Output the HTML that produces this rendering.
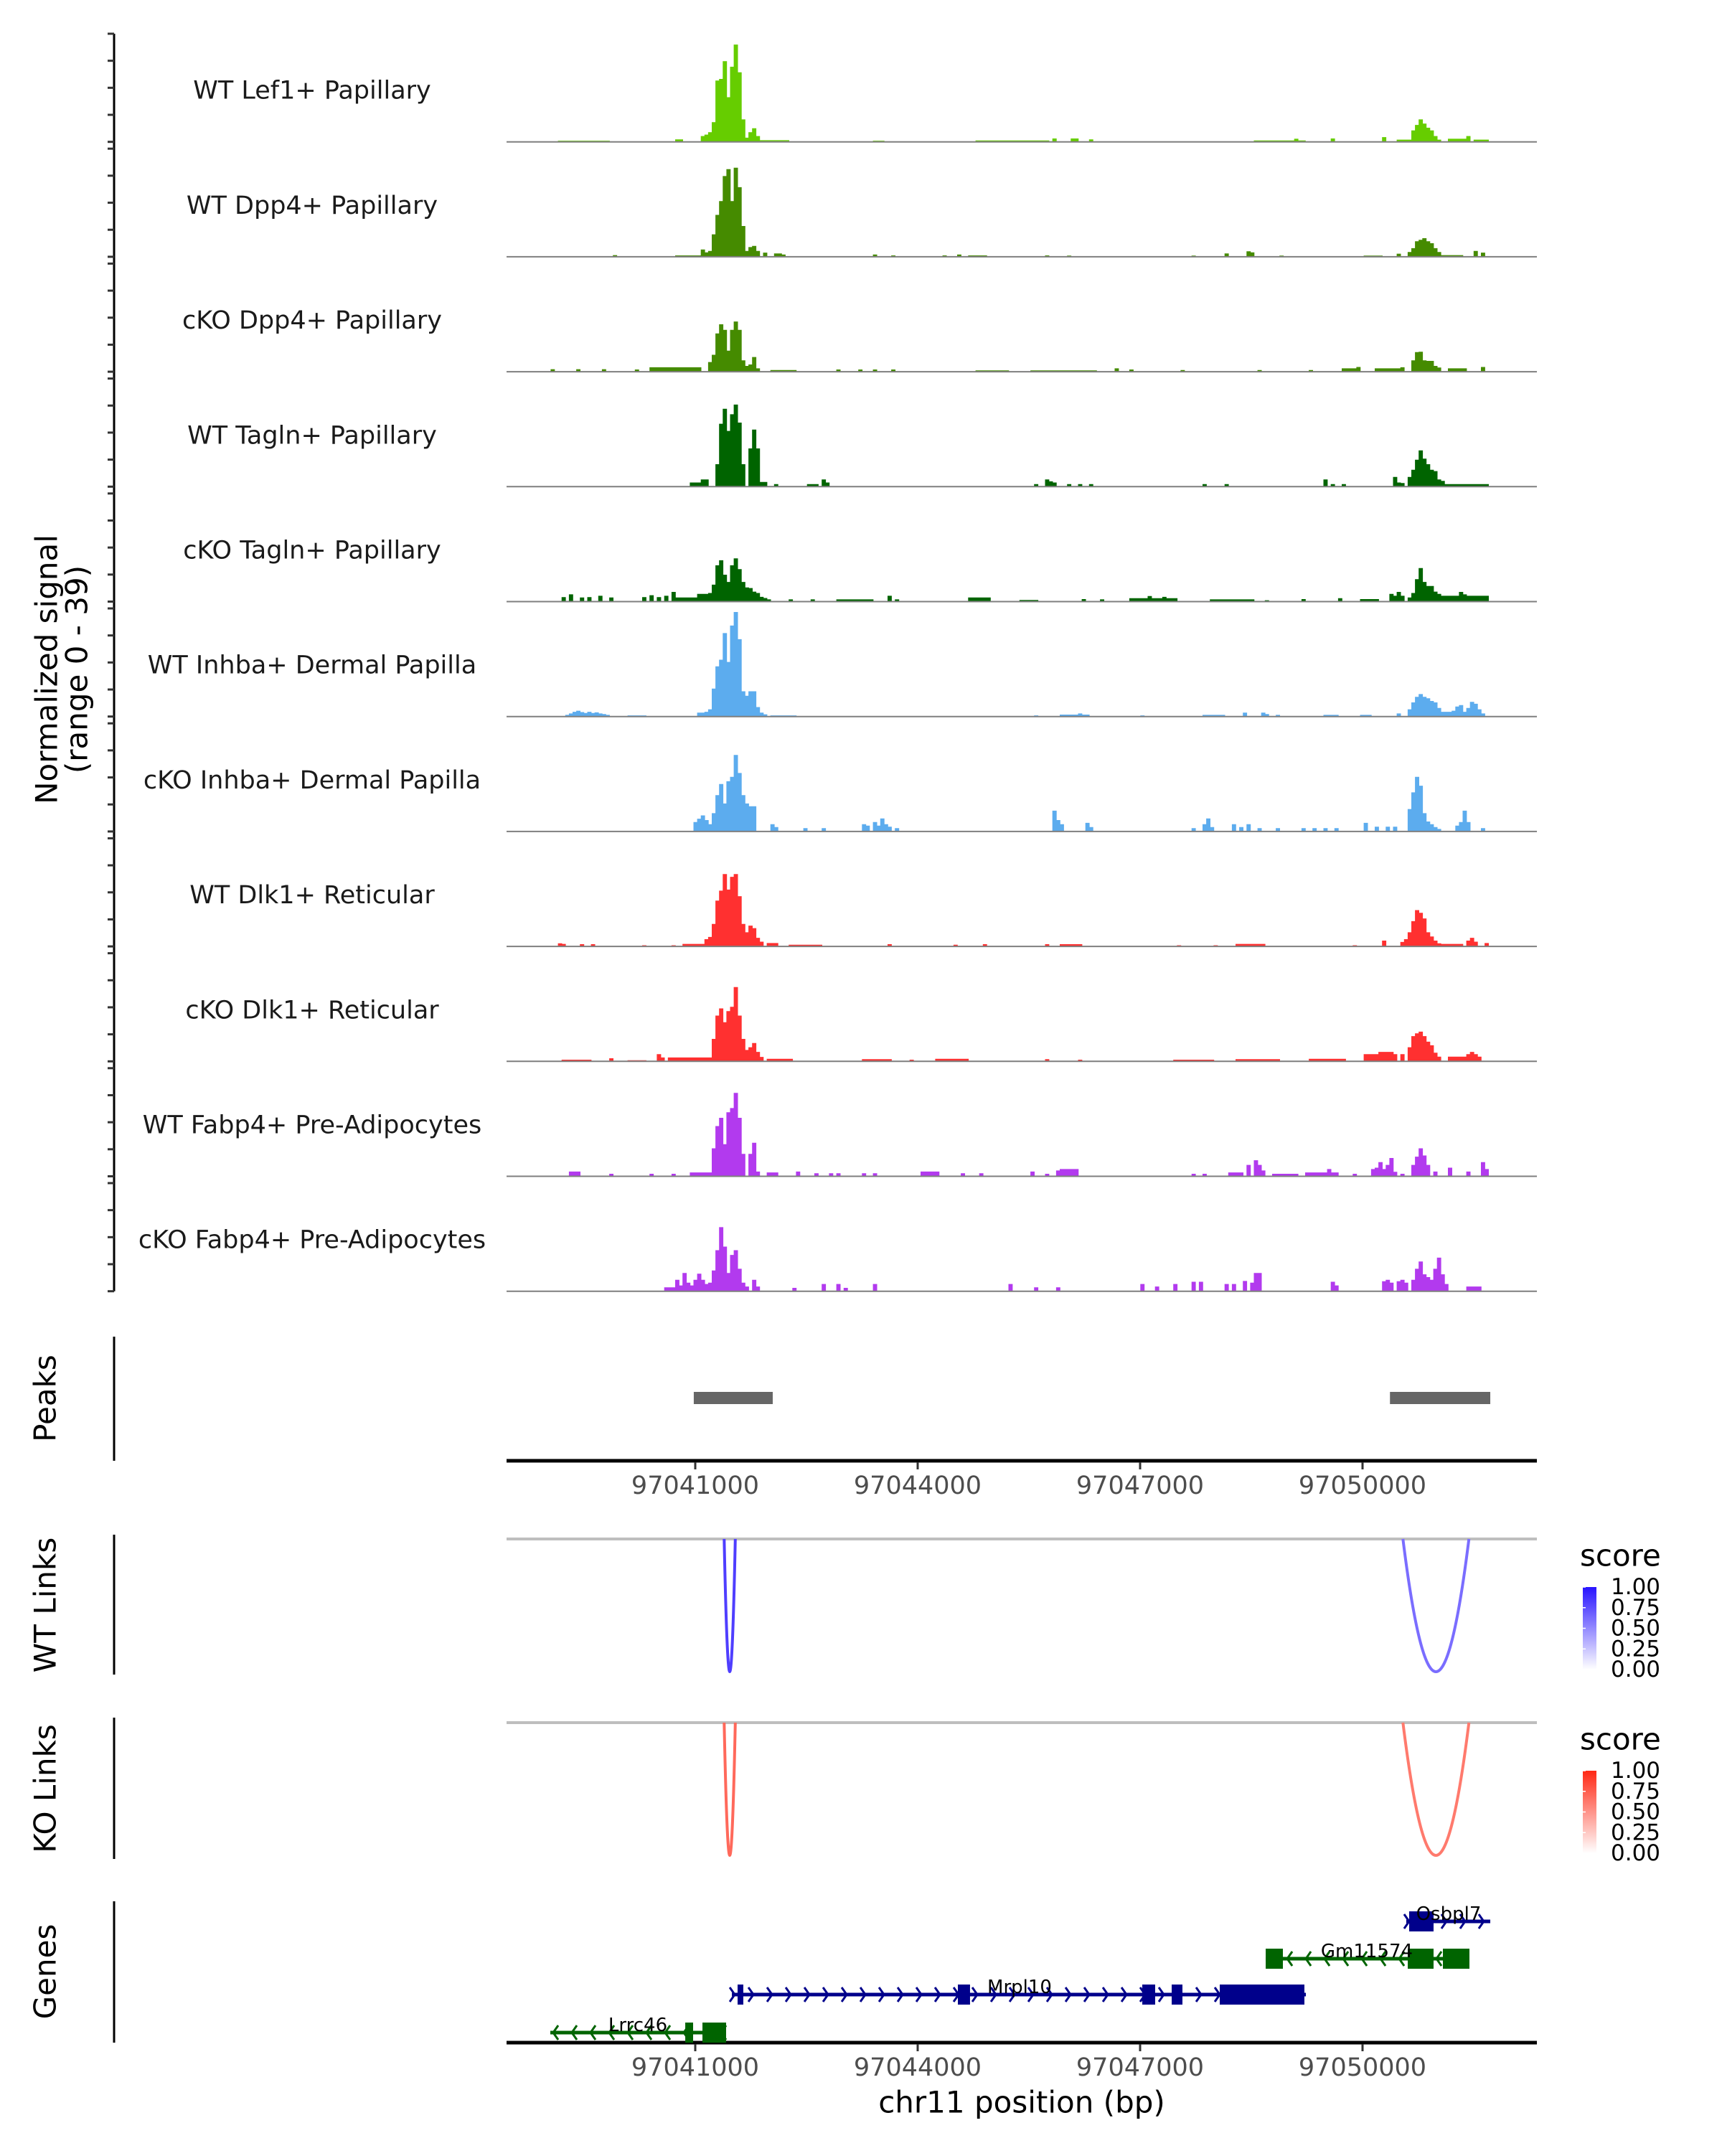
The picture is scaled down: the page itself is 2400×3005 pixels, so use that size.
<!DOCTYPE html>
<html><head><meta charset="utf-8"><style>
html,body{margin:0;padding:0;background:#fff;}
svg text{font-family:"DejaVu Sans","Liberation Sans",sans-serif;}
</style></head><body>
<svg id="chart" xmlns="http://www.w3.org/2000/svg" width="2400" height="3000" viewBox="0 0 2400 3000">
<rect x="0" y="0" width="2400" height="3000" fill="#fff"/>
<g id="tracks"></g>
<g id="axes"></g>
<g id="peaks"></g>
<g id="links"></g>
<g id="genes"></g>
</svg>
<script>
const NS="http://www.w3.org/2000/svg";
const binStartBp=97039053, binSizeBp=49.4;
const trackNames=["WT Lef1+ Papillary","WT Dpp4+ Papillary","cKO Dpp4+ Papillary","WT Tagln+ Papillary","cKO Tagln+ Papillary","WT Inhba+ Dermal Papilla","cKO Inhba+ Dermal Papilla","WT Dlk1+ Reticular","cKO Dlk1+ Reticular","WT Fabp4+ Pre-Adipocytes","cKO Fabp4+ Pre-Adipocytes"];
const trackColors=["#66cd00","#458b00","#458b00","#006400","#006400","#5cacee","#5cacee","#ff3030","#ff3030","#b23aee","#b23aee"];
const sigWtLef1=[[2,0.3,14],[34,0.8,2],[41,2],[42,2.5],[43,3.4],[44,7],[45,22],[46,22.6],[47,29],[48,16],[49,27],[50,35],[51,25],[52,8],[53,1.4],[54,3.4],[55,4.8],[56,2],[57,0.5,8],[88,0.3,3],[116,0.4,20],[137,1.1],[142,1.1,2],[147,0.8],[192,0.4,14],[203,1],[213,1.1],[227,1.6],[231,0.7,4],[235,4],[236,6],[237,8],[238,6.5],[239,5],[240,4],[241,2],[242,0.7],[245,1,5],[250,2],[252,0.7,4]];
const sigWtDpp4=[[17,0.5],[34,0.4,7],[41,2.5],[42,1.5],[43,2],[44,8],[45,15],[46,20],[47,29],[48,31.5],[49,20],[50,32],[51,25],[52,11],[53,2],[54,3.4],[55,3.8],[56,2],[58,1.4],[61,1.1,2],[63,0.7],[88,0.7],[93,0.4],[107,0.4],[111,0.7],[114,0.4,5],[135,0.4],[141,0.3],[175,0.3],[184,1.1],[190,1.9],[191,1.5],[199,0.3],[222,0.3,5],[231,1],[234,1.6],[235,3],[236,5.5],[237,6],[238,6.6],[239,5.5],[240,4.8],[241,3],[242,1.6],[243,0.5,6],[252,2],[254,1.4]];
const sigKoDpp4=[[0,0.8],[7,0.8],[14,0.8],[23,0.7],[27,1.5,14],[43,3.4],[44,6],[45,13.7],[46,17],[47,15],[48,7.5],[49,15],[50,18],[51,15],[52,4],[53,2],[54,2.5],[55,5.2],[56,1.1],[60,0.5,7],[78,0.7],[84,0.7],[88,0.7],[93,0.7],[116,0.4,9],[131,0.4,18],[154,1.1],[158,0.7],[172,0.5],[193,0.5],[207,0.5],[216,1.1,4],[220,1.6],[225,1.1,7],[232,1.5],[235,4],[236,7],[237,7.1],[238,4],[239,3.8],[240,3.8],[241,2],[242,1.4],[245,1.1,5],[254,1.6]];
const sigWtTagln=[[38,1.4,3],[41,2.5,2],[45,8],[46,22.6],[47,28],[48,20],[49,26],[50,29.5],[51,23],[52,8],[54,13.7],[55,20.5],[56,13.7],[57,1.6,2],[61,0.8],[70,0.8,3],[74,2.5],[75,1.4],[132,0.8],[135,2.5],[136,1.8],[137,1.4],[141,0.8],[144,0.8],[147,0.8],[178,0.8],[184,0.8],[211,2.5],[213,0.8],[216,0.8],[230,3.4],[231,1.4],[232,1.2],[234,3.4],[235,6],[236,9.6],[237,13],[238,10],[239,8],[240,6],[241,5.5],[242,2.5],[243,2],[244,0.8,12]];
const sigKoTagln=[[3,1.5],[5,2.5],[8,1.4],[10,1.5],[13,2],[16,1.4],[25,1.5],[27,2.2],[29,1.5],[31,2],[33,3.4],[34,1.4,6],[40,2.7],[41,2.7],[42,2.7],[43,3],[44,6],[45,13],[46,14.8],[47,9.6],[48,7],[49,13],[50,15.5],[51,11.6],[52,7],[53,5],[54,4.8],[55,3.5],[56,3],[57,1.6],[58,1.2],[59,0.7],[65,0.7],[71,0.7],[78,0.7,10],[92,2],[94,0.7],[114,1.4,6],[128,0.5,5],[145,0.8],[150,0.7],[158,1.1,13],[163,1.9],[167,1.6],[180,0.7,12],[195,0.4],[205,0.8],[215,1.1],[221,0.8,5],[229,2.7],[230,2],[231,3.4],[232,2],[234,1.4],[235,3],[236,8],[237,12],[238,7],[239,5.5],[240,5.5],[241,3.5],[242,2.7],[243,2,5],[248,3.4],[249,2.5],[250,2,6]];
const sigWtInhba=[[4,0.5],[5,1],[6,1.6],[7,2],[8,1.5],[9,1.2],[10,1.6],[11,1.2],[12,1.4],[13,1],[14,0.8],[15,0.5],[21,0.3,5],[40,1.3,2],[42,1.6],[43,2.5],[44,10],[45,18],[46,20.4],[47,30],[48,19.6],[49,32.7],[50,37.6],[51,27.8],[52,9],[53,7.4],[54,9],[55,9],[56,3.3],[57,1.3],[58,0.7],[60,0.3,7],[132,0.3],[139,0.6,8],[144,1],[161,0.3],[178,0.5,6],[189,1.3],[194,1.3],[195,0.8],[198,0.5],[211,0.5,4],[221,0.5,3],[231,1],[234,2.5],[235,5],[236,7],[237,8],[238,7],[239,6.5],[240,5.5],[241,5],[242,3],[243,1.6],[244,1.6,2],[246,2],[247,3.5],[248,4],[249,1.6],[250,3],[251,5.2],[252,4.5],[253,2.5],[254,1]];
const sigKoInhba=[[39,3.3],[40,4.5],[41,5.7],[42,4],[43,2.5],[44,6.5],[45,13],[46,17],[47,10],[48,18],[49,19.6],[50,27.5],[51,21],[52,13],[53,10],[54,9],[55,9],[60,2.5],[61,1.5],[69,1.1],[74,1.1],[85,2.5],[86,2],[88,3.3],[89,2],[90,4.6],[91,2.5],[92,1.6],[94,1.1],[137,7.4],[138,4],[139,2.5],[146,3],[147,1.5],[175,1.1],[178,2.5],[179,4.6],[180,1.5],[186,2.5],[188,1.5],[190,2.5],[193,1.1],[198,1.1],[205,1.1],[208,1.1],[211,1.1],[214,1.1],[222,3],[225,1.6],[228,1.6],[230,1.6],[234,8],[235,14],[236,19.6],[237,16.4],[238,6.5],[239,3.5],[240,2.5],[241,1.5],[242,0.8],[247,2],[248,3.3],[249,7.4],[250,3.3],[254,1.1]];
const sigWtDlk1=[[2,1],[3,0.8],[8,0.7],[11,0.7],[25,0.3],[33,0.3],[36,0.8,6],[42,2.5],[43,3.3],[44,8],[45,16.4],[46,20],[47,26],[48,20.4],[49,25],[50,26],[51,18],[52,8],[53,5],[54,7.4],[55,6.5],[56,3],[57,1.6],[59,1.1,3],[65,0.5,9],[92,0.7],[110,0.5],[118,0.7],[135,0.7],[139,0.7,6],[171,0.3],[181,0.3],[187,0.8,8],[219,0.3],[227,2],[232,1.5],[233,2.5],[234,5],[235,9],[236,13],[237,12],[238,10],[239,5],[240,3.5],[241,2],[242,1],[243,0.8,6],[250,2],[251,3],[252,1.6],[255,1.1]];
const sigKoDlk1=[[3,0.5,8],[16,1],[21,0.3,5],[29,2.5],[30,1.3],[32,1.3,12],[44,8],[45,16.4],[46,19],[47,14],[48,18],[49,19.6],[50,26.7],[51,16.4],[52,8],[53,4],[54,5],[55,6.5],[56,3.3],[57,1.5],[59,0.8,7],[85,0.7,8],[98,0.5],[105,0.8,9],[135,0.7],[144,0.5],[170,0.5,11],[187,0.7,12],[207,0.8,10],[222,2.5,4],[226,3.3,4],[230,2.5],[232,2.5],[234,5],[235,9],[236,10],[237,10.6],[238,9],[239,7],[240,5.7],[241,3],[242,1.6],[245,1.6,5],[250,2.5],[251,3.3],[252,2.5],[253,1.6]];
const sigWtFabp4=[[5,1.6,3],[16,0.8],[27,0.8],[33,0.8],[38,1.3,6],[44,10],[45,18],[46,21],[47,11.5],[48,23],[49,24.5],[50,30],[51,21],[52,8],[54,8],[55,12],[56,1.6],[59,1.3,3],[67,1.6],[72,1],[76,1],[78,1],[85,1],[88,1],[101,1.6,5],[112,1],[117,1],[131,1.6],[135,0.8],[138,2],[139,2.5,5],[175,0.8],[178,0.8],[185,1.3,4],[190,4],[192,5.7],[193,4],[194,2],[197,0.8,7],[206,1.3,9],[212,2.5],[219,0.8],[224,2.5],[225,3],[226,5],[227,2.5],[228,4],[229,6.5],[230,1.5],[232,0.8],[235,4],[236,7],[237,10],[238,7.4],[239,4],[241,1.6],[245,3],[250,1.6],[254,5],[255,2.5]];
const sigKoFabp4=[[31,1.3,3],[34,4],[35,2],[36,6.5],[37,3],[38,2],[39,4],[40,6.2],[41,4],[42,2.5],[43,3],[44,7.4],[45,14.7],[46,23],[47,16],[48,6.5],[49,13],[50,14.7],[51,8],[52,3],[53,1.6],[55,4],[56,1.6],[66,1.1],[74,2.5],[78,2.5],[80,1.1],[88,2.5],[125,2.5],[132,1.3],[138,1.3],[161,2.5],[165,1.6],[170,2.5],[175,3.3],[177,3.3],[184,2.5],[186,2.5],[189,3.6],[191,3],[192,6.5],[193,6.5],[213,3.3],[214,2],[227,3.5],[228,4],[229,3],[231,3.5],[232,4],[233,3],[235,4],[236,8],[237,10.6],[238,6],[239,5],[240,4],[241,8],[242,12],[243,6],[244,2.5],[250,1.6,4]];
const xTicks=[97041000,97044000,97047000,97050000];
const xTickLabels=["97041000","97044000","97047000","97050000"];
const peakStarts=[97040980,97050370];
const peakEnds=[97042045,97051723];
const wtLinkStarts=[97041390,97050545];
const wtLinkEnds=[97041540,97051435];
const wtLinkScores=[0.82,0.62];
const koLinkStarts=[97041390,97050545];
const koLinkEnds=[97041540,97051435];
const koLinkScores=[0.7,0.62];
const legendTicks=[1.00,0.75,0.50,0.25,0.00];
const legendTickLabels=["1.00","0.75","0.50","0.25","0.00"];
const geneNames=["Osbpl7","Gm11574","Mrpl10","Lrrc46"];
const geneStrand=[1,-1,1,-1];
const geneStart=[97050590,97048694,97041494,97039045];
const geneEnd=[97051723,97051423,97049236,97041416];
const geneExons=[[[97050629,97050958]],[[97048694,97048926],[97050610,97050958],[97051084,97051442]],[[97041571,97041648],[97044542,97044706],[97047029,97047203],[97047426,97047571],[97048074,97049216]],[[97040865,97040971],[97041097,97041416]]];
const signalRangeMax=39;

const sigs=[sigWtLef1,sigWtDpp4,sigKoDpp4,sigWtTagln,sigKoTagln,sigWtInhba,sigKoInhba,sigWtDlk1,sigKoDlk1,sigWtFabp4,sigKoFabp4];
const X0=706,X1=2142;
function xScale(bp){return 969+(bp-97041000)*0.103333;}
function baseY(k){return 197.7+k*160.2;}
const trackH=150.7;
function yVal(k,v){return baseY(k)-v/signalRangeMax*trackH;}
function mk(tag,attrs,parent){const e=document.createElementNS(NS,tag);for(const a in attrs)e.setAttribute(a,attrs[a]);parent.appendChild(e);return e;}
const gT=document.getElementById('tracks');
for(let k=0;k<11;k++){
  const dense=new Array(262).fill(0);
  sigs[k].forEach(function(s){const span=s[2]||1;for(let j=0;j<span;j++)dense[s[0]+j]=s[1];});
  let d="M"+xScale(binStartBp).toFixed(1)+","+baseY(k).toFixed(1);
  for(let i=0;i<dense.length;i++){
    const xa=xScale(binStartBp+i*binSizeBp),xb=xScale(binStartBp+(i+1)*binSizeBp),y=yVal(k,dense[i]);
    d+="L"+xa.toFixed(1)+","+y.toFixed(1)+"L"+xb.toFixed(1)+","+y.toFixed(1);
  }
  d+="L"+xScale(binStartBp+dense.length*binSizeBp).toFixed(1)+","+baseY(k).toFixed(1)+"Z";
  const p=mk('path',{d:d,fill:trackColors[k],stroke:trackColors[k],'stroke-width':'0.8'},gT);
  
  
  const bl=mk('line',{x1:X0,x2:X1,y1:baseY(k),y2:baseY(k),stroke:'#7f7f7f','stroke-width':'2'},gT);
  
  
  const t=mk('text',{x:435,y:baseY(k)-71,'font-size':'35','text-anchor':'middle','dominant-baseline':'central',fill:'#1a1a1a'},gT);
  t.textContent=trackNames[k];
  
  
}
const gA=document.getElementById('axes');
function vline(x,y1,y2,name){const l=mk('line',{x1:x,x2:x,y1:y1,y2:y2,stroke:'#000','stroke-width':'3'},gA);}
vline(159,baseY(0)-trackH,baseY(10),'signal-y-axis');
for(let k=0;k<11;k++){for(let n=0;n<=4;n++){const y=baseY(k)-n*trackH/4;const tk=mk('line',{x1:150,x2:159,y1:y,y2:y,stroke:'#333','stroke-width':'3'},gA);}}
function vtitle(x,y,txt,name){const t=mk('text',{x:x,y:y,'font-size':'42','text-anchor':'middle','dominant-baseline':'central',transform:'rotate(-90 '+x+' '+y+')',fill:'#000'},gA);t.textContent=txt;}
vtitle(65,933,'Normalized signal','y-axis-title');
vtitle(107,933,'(range 0 - 39)','y-axis-subtitle');
vtitle(63,1949,'Peaks','peaks-title');
vtitle(63,2237,'WT Links','wt-links-title');
vtitle(63,2493,'KO Links','ko-links-title');
vtitle(63,2748,'Genes','genes-title');
vline(159,1863,2036,'peaks-axis');
vline(159,2139,2334,'wt-links-axis');
vline(159,2394,2591,'ko-links-axis');
vline(159,2650,2847,'genes-axis');
function xAxis(y,name){
  const l=mk('line',{x1:X0,x2:X1,y1:y,y2:y,stroke:'#000','stroke-width':'5'},gA);
  xTicks.forEach(function(v,i){const x=xScale(v);const tk=mk('line',{x1:x,x2:x,y1:y+2,y2:y+12,stroke:'#333','stroke-width':'3'},gA);
    const t=mk('text',{x:x,y:y+35,'font-size':'35','text-anchor':'middle','dominant-baseline':'central',fill:'#4d4d4d'},gA);t.textContent=xTickLabels[i];});
}
xAxis(2036,'peaks-x-axis');
xAxis(2847,'genes-x-axis');
const xl=mk('text',{x:1424,y:2930,'font-size':'42','text-anchor':'middle','dominant-baseline':'central',fill:'#000'},gA);xl.textContent='chr11 position (bp)';


const gP=document.getElementById('peaks');
peakStarts.forEach(function(s,i){const r=mk('rect',{x:xScale(s),y:1940,width:xScale(peakEnds[i])-xScale(s),height:17,fill:'#666'},gP);});
const gL=document.getElementById('links');
function mix(c,s){return 'rgb('+c.map(function(v){return Math.round(255+(v-255)*s);}).join(',')+')';}
function linkPanel(top,bottom,starts,ends,scores,base,prefix,legY){
  const gl=mk('line',{x1:X0,x2:X1,y1:top,y2:top,stroke:'#bebebe','stroke-width':'4'},gL);
  starts.forEach(function(s,i){const xa=xScale(s),xb=xScale(ends[i]);const cy=top+2*(bottom-top);
    const p=mk('path',{d:'M'+xa+','+top+' Q'+((xa+xb)/2)+','+cy+' '+xb+','+top,fill:'none',stroke:mix(base,scores[i]),'stroke-width':'4'},gL);});
  const tt=mk('text',{x:2202,y:legY,'font-size':'42','dominant-baseline':'central',fill:'#000'},gL);tt.textContent='score';
  const by0=legY+44,by1=legY+159;
  const gid=prefix+'grad';const defs=mk('defs',{},gL);const lg=mk('linearGradient',{id:gid,x1:0,y1:1,x2:0,y2:0},defs);
  mk('stop',{offset:'0','stop-color':'#ffffff'},lg);mk('stop',{offset:'1','stop-color':mix(base,1)},lg);
  const bar=mk('rect',{x:2206,y:by0,width:19,height:by1-by0,fill:'url(#'+gid+')'},gL);
  legendTicks.forEach(function(v,i){const y=by1-v*(by1-by0);const tk=mk('line',{x1:2206,x2:2210,y1:y,y2:y,stroke:'#fff','stroke-width':'1.5'},gL);
    const t=mk('text',{x:2245,y:y,'font-size':'31','dominant-baseline':'central',fill:'#000'},gL);t.textContent=legendTickLabels[i];});
}
linkPanel(2145,2330,wtLinkStarts,wtLinkEnds,wtLinkScores,[40,20,255],'wt-links',2168);
linkPanel(2401,2586,koLinkStarts,koLinkEnds,koLinkScores,[255,40,20],'ko-links',2424);
const gG=document.getElementById('genes');
const geneRowY=[2678,2730,2780,2833];
geneNames.forEach(function(n,i){
  const col=geneStrand[i]>0?'#00008b':'#006400';const y=geneRowY[i];
  const xa=xScale(geneStart[i]),xb=xScale(geneEnd[i]);
  const ln=mk('line',{x1:xa,x2:xb,y1:y,y2:y,stroke:col,'stroke-width':'5'},gG);
  for(let x=xa+4;x<=xb;x+=26){const dx=geneStrand[i]*7;
    const c=mk('polyline',{points:(x-dx)+','+(y-10)+' '+x+','+y+' '+(x-dx)+','+(y+10),fill:'none',stroke:col,'stroke-width':'3'},gG);}
  geneExons[i].forEach(function(e){const r=mk('rect',{x:xScale(e[0]),y:y-14,width:xScale(e[1])-xScale(e[0]),height:28,fill:col},gG);});
  const lx={Osbpl7:2019,Gm11574:1905,Mrpl10:1421,Lrrc46:889}[n];
  const t=mk('text',{x:lx,y:y-2,'font-size':'26','text-anchor':'middle',fill:'#000'},gG);t.textContent=n;
});
</script>
</body></html>
